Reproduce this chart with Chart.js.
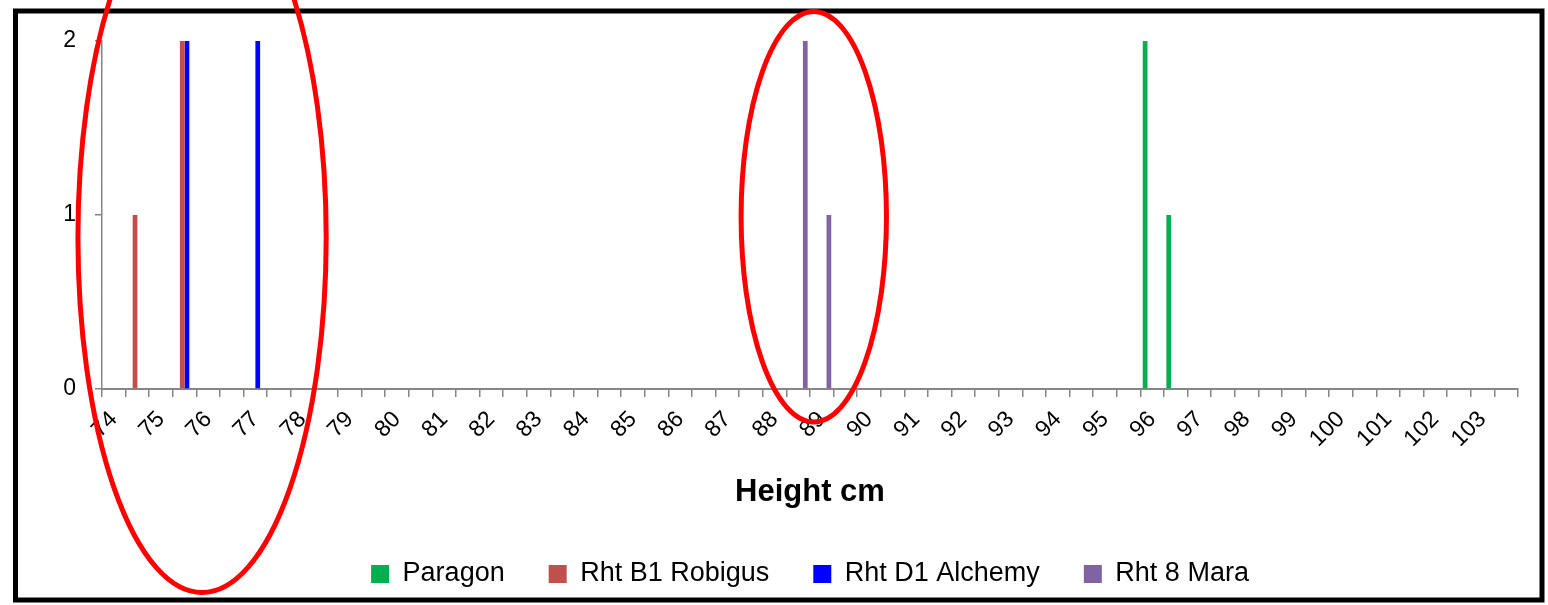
<!DOCTYPE html>
<html>
<head>
<meta charset="utf-8">
<title>Height cm</title>
<script src="https://cdn.jsdelivr.net/npm/chart.js@4.4.1/dist/chart.umd.min.js"></script>
<style>
  html, body { margin: 0; padding: 0; background: #ffffff; }
  canvas { display: block; }
</style>
</head>
<body>
<canvas id="heightChart" width="1548" height="605"></canvas>
<script>
// Plant height classes (cm), in half-centimetre steps
const heights = [
  74, 74.5, 75, 75.5, 76, 76.5, 77, 77.5, 78, 78.5,
  79, 79.5, 80, 80.5, 81, 81.5, 82, 82.5, 83, 83.5,
  84, 84.5, 85, 85.5, 86, 86.5, 87, 87.5, 88, 88.5,
  89, 89.5, 90, 90.5, 91, 91.5, 92, 92.5, 93, 93.5,
  94, 94.5, 95, 95.5, 96, 96.5, 97, 97.5, 98, 98.5,
  99, 99.5, 100, 100.5, 101, 101.5, 102, 102.5, 103, 103.5
];

// Number of plants measured at each height, per line
const paragonHeights = [96, 96.5];
const paragonCounts  = [2, 1];

const robigusHeights = [74.5, 75.5];
const robigusCounts  = [1, 2];

const alchemyHeights = [75.5, 77];
const alchemyCounts  = [2, 2];

const maraHeights = [88.5, 89];
const maraCounts  = [2, 1];

const seriesNames = ['Paragon', 'Rht B1 Robigus', 'Rht D1 Alchemy', 'Rht 8 Mara'];
const countTicks = [0, 1, 2];

// Spread a line's counts onto the full list of height classes
function countsByHeight(at, counts) {
  return heights.map(h => {
    const i = at.indexOf(h);
    return i < 0 ? null : counts[i];
  });
}

// Red rings drawn around the groups of dwarfing lines
const rings = [
  { height: 75.87, count: 0.87, halfWidthCm: 2.63, halfHeightCount: 2.04 },
  { height: 88.83, count: 0.99, halfWidthCm: 1.54, halfHeightCount: 1.18 }
];

const FONT = "'Liberation Sans', Arial, sans-serif";
const AXIS_GREY = '#868686';
Chart.defaults.font.family = FONT;
Chart.defaults.color = '#000000';

const framePlugin = {
  id: 'frameAndRings',
  beforeLayout(chart) {
    const legend = chart.legend;
    if (legend && !legend._fixedHeight) {
      const fit = legend.fit;
      legend.fit = function () {
        fit.call(this);
        this.height = 83.5;
      };
      legend._fixedHeight = true;
    }
  },
  beforeDraw(chart) {
    const ctx = chart.ctx;
    ctx.save();
    ctx.fillStyle = '#ffffff';
    ctx.fillRect(0, 0, chart.width, chart.height);
    ctx.restore();
  },
  afterDraw(chart) {
    const { ctx, scales: { x, y } } = chart;
    ctx.save();
    // outer frame
    ctx.strokeStyle = '#000000';
    ctx.lineWidth = 5;
    ctx.strokeRect(15.5, 11, 1526.5, 589);
    // rings
    const step = heights[1] - heights[0];
    const pxPerCm = (x.getPixelForValue(1) - x.getPixelForValue(0)) / step;
    const pxPerCount = Math.abs(y.getPixelForValue(1) - y.getPixelForValue(0));
    ctx.strokeStyle = '#ff0000';
    ctx.lineWidth = 5;
    rings.forEach(r => {
      const cx = x.getPixelForValue((r.height - heights[0]) / step);
      const cy = y.getPixelForValue(r.count);
      ctx.beginPath();
      ctx.ellipse(cx, cy, r.halfWidthCm * pxPerCm, r.halfHeightCount * pxPerCount, 0, 0, Math.PI * 2);
      ctx.stroke();
    });
    ctx.restore();
  }
};

new Chart(document.getElementById('heightChart'), {
  type: 'bar',
  data: {
    labels: heights.map(String),
    datasets: [
      { label: seriesNames[0], data: countsByHeight(paragonHeights, paragonCounts), backgroundColor: '#00b050' },
      { label: seriesNames[1], data: countsByHeight(robigusHeights, robigusCounts), backgroundColor: '#c0504d' },
      { label: seriesNames[2], data: countsByHeight(alchemyHeights, alchemyCounts), backgroundColor: '#0000ff' },
      { label: seriesNames[3], data: countsByHeight(maraHeights, maraCounts), backgroundColor: '#8064a2' }
    ]
  },
  options: {
    responsive: false,
    animation: false,
    devicePixelRatio: 1,
    datasets: {
      bar: { categoryPercentage: 0.8, barPercentage: 1.0, borderWidth: 0 }
    },
    layout: { padding: { left: 0, right: 30, top: 41, bottom: 5 } },
    plugins: {
      tooltip: { enabled: false },
      legend: {
        position: 'bottom',
        fullSize: false,
        labels: {
          boxWidth: 18,
          boxHeight: 18,
          padding: 44,
          color: '#000000',
          font: { size: 27, family: FONT }
        }
      }
    },
    scales: {
      x: {
        type: 'category',
        offset: true,
        grid: {
          offset: true,
          drawOnChartArea: false,
          drawTicks: true,
          tickLength: 8,
          color: AXIS_GREY,
          lineWidth: 1.5
        },
        border: { display: true, color: AXIS_GREY, width: 2 },
        ticks: {
          autoSkip: false,
          maxRotation: 45,
          minRotation: 45,
          padding: 9,
          color: '#000000',
          font: { size: 23, family: FONT },
          callback: (value, index) => Number.isInteger(heights[index]) ? String(heights[index]) : ''
        },
        title: {
          display: true,
          text: 'Height cm',
          color: '#000000',
          font: { size: 31, weight: 'bold', family: FONT, lineHeight: 1.2 },
          padding: { top: 0, bottom: 5 }
        },
        afterFit(scale) {
          scale.height = 127.5;
          scale.paddingLeft = 0;
          scale.paddingRight = 0;
        }
      },
      y: {
        min: 0,
        max: 2,
        afterBuildTicks(scale) {
          scale.ticks = countTicks.map(v => ({ value: v }));
        },
        grid: {
          drawOnChartArea: false,
          drawTicks: true,
          tickLength: 7,
          color: AXIS_GREY,
          lineWidth: 1.5
        },
        border: { display: true, color: AXIS_GREY, width: 1.5 },
        ticks: {
          padding: 19,
          color: '#000000',
          font: { size: 23, family: FONT }
        },
        afterFit(scale) {
          scale.width = 102;
          scale.paddingTop = 0;
          scale.paddingBottom = 0;
        }
      }
    }
  },
  plugins: [framePlugin]
});
</script>
</body>
</html>
